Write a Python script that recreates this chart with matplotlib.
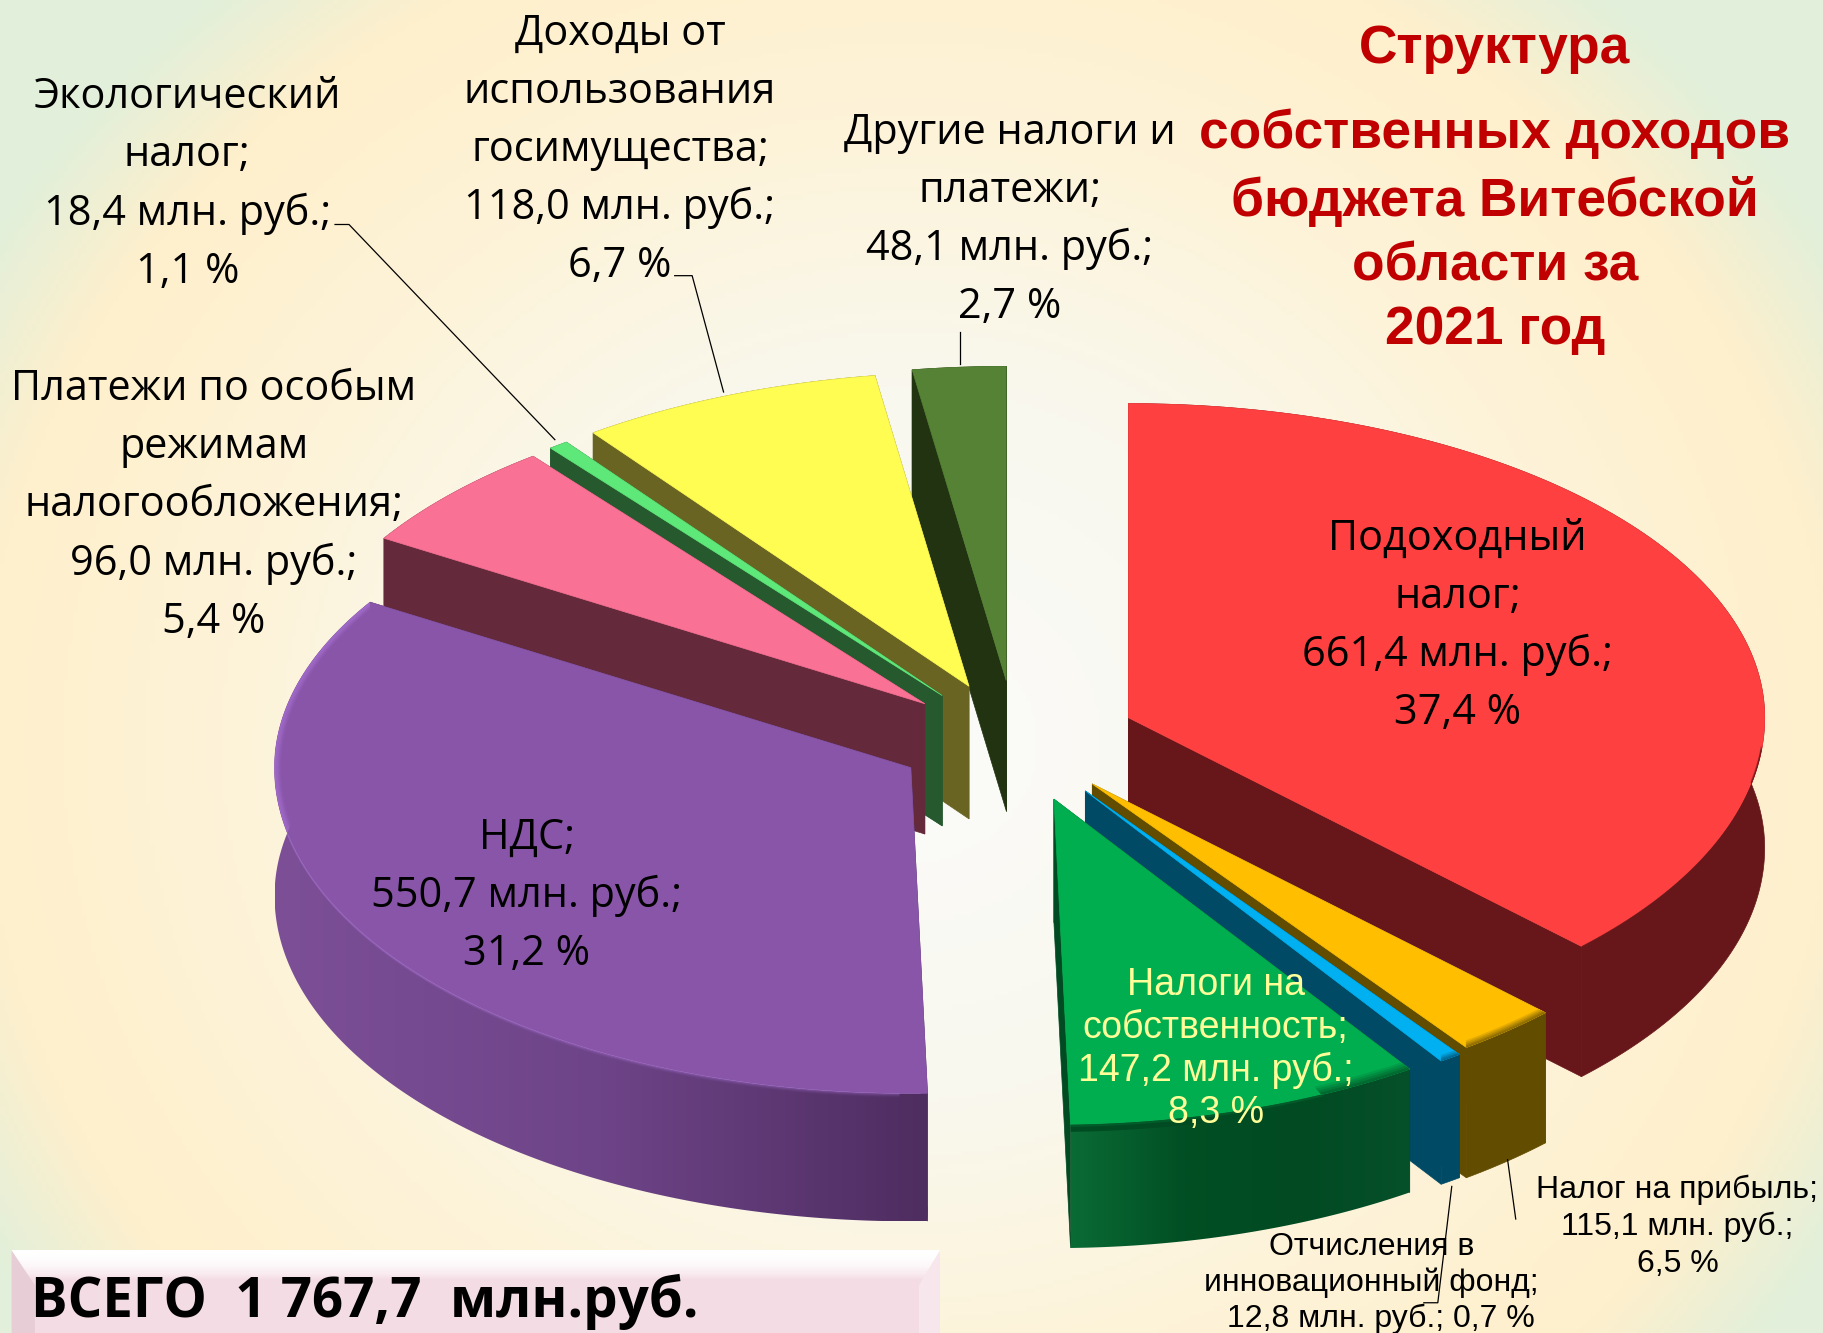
import numpy as np
import matplotlib
matplotlib.use('Agg')
import matplotlib.pyplot as plt
from matplotlib.colors import to_rgb, LinearSegmentedColormap

# data, clockwise from 12 o'clock
names = ['Подоходный\nналог', 'Налог на прибыль', 'Отчисления в\nинновационный фонд',
         'Налоги на\nсобственность', 'НДС', 'Платежи по особым\nрежимам\nналогообложения',
         'Экологический\nналог', 'Доходы от\nиспользования\nгосимущества', 'Другие налоги и\nплатежи']
values = [661.4, 115.1, 12.8, 147.2, 550.7, 96.0, 18.4, 118.0, 48.1]
percents = [37.4, 6.5, 0.7, 8.3, 31.2, 5.4, 1.1, 6.7, 2.7]
total_label = 'ВСЕГО  1 767,7  млн.руб.'
title_lines = ['Структура', 'собственных доходов', 'бюджета Витебской', 'области за', '2021 год']

# colors per slice
top_col = ['#FF4040', '#FFBE00', '#00B0F0', '#00AE50', '#8955A8', '#F97194', '#5FE87A', '#FFFC52', '#558234']
side_col = ['#67161A', '#614C00', '#004A66', '#014B22', '#4B2E60', '#642A3C', '#265A2E', '#696421', '#223312']
# apex of every exploded slice and wall height, in the 1568x1146 layout
apex_x = [970, 939, 933, 906, 783, 795, 810, 833, 865]
apex_y = [617, 674, 680, 687, 660, 605, 598, 590, 585]
depths = [112, 112, 106, 106, 110, 112, 112, 114, 112]
# walls that shade from left to right
wall_maps = {4: ['#7C4F97', '#6E4488', '#4E2D60'], 3: ['#0A6B35', '#014F24', '#014A22', '#06502A']}
# half width of the soft edge between top and wall
bevel_px = {0: 3, 1: 6, 2: 5, 3: 8}

# perspective squeezes the front of the pie, share -> angle on screen
pct_knots = [0, 37.4, 43.9, 44.6, 52.9, 84.1, 89.5, 90.6, 97.3, 100]
deg_knots = [0, 134.6, 144, 146, 178.5, 301.8, 322, 323.8, 351.5, 360]

A = 547      # half width of ellipse
B_BACK = 270
B_FRONT = 280


def rim(t, cx, cy):
    # t in degrees clockwise from top
    r = np.radians(t)
    b = np.where(np.cos(r) > 0, B_BACK, B_FRONT)
    return cx + A * np.sin(r), cy - b * np.cos(r)


def lerp(c1, c2, f):
    c1, c2 = np.array(to_rgb(c1)), np.array(to_rgb(c2))
    return tuple(c1 + (c2 - c1) * f)


def fmt(v):
    return f'{v:.1f}'.replace('.', ',')


fig = plt.figure(figsize=(18.24, 13.33), dpi=100)
ax = fig.add_axes([0, 0, 1, 1])
ax.axis('off')

# background
gx, gy = np.meshgrid(np.linspace(0, 1568, 400), np.linspace(0, 1146, 300))
d = np.sqrt(((gx - 780) / 760) ** 2 + ((gy - 640) / 700) ** 2)
cmap = LinearSegmentedColormap.from_list('bg', [(0, '#FBFBFA'), (0.35, '#F9F8EE'), (0.62, '#FDF3D8'),
                                                (0.84, '#FFF0CC'), (0.97, '#E2EFDA'), (1, '#E2EFDA')])
ax.imshow(np.clip(d / 1.25, 0, 1), cmap=cmap, vmin=0, vmax=1, extent=(0, 1568, 1146, 0), aspect='auto', zorder=0)

# slices back to front
edges = np.interp(np.cumsum([0] + percents), pct_knots, deg_knots)
order = [8, 7, 6, 5, 4, 0, 1, 2, 3]
z = 2
for i in order:
    t = np.linspace(edges[i], edges[i + 1], max(int((edges[i + 1] - edges[i]) * 2), 3))
    x, y = rim(t, apex_x[i], apex_y[i])
    h = depths[i]
    # radial faces
    for k in (-1, 0):
        quad = [(apex_x[i], apex_y[i]), (apex_x[i], apex_y[i] + h), (x[k], y[k] + h), (x[k], y[k])]
        ax.add_patch(plt.Polygon(quad, fc=side_col[i], ec=side_col[i], lw=0.5, zorder=z))
    # outer wall
    wall = np.column_stack([np.r_[x, x[::-1]], np.r_[y, y[::-1] + h]])
    if i in wall_maps:
        wmap = LinearSegmentedColormap.from_list(f'w{i}', wall_maps[i])
        im = ax.imshow(np.linspace(0, 1, 256)[None, :], cmap=wmap, aspect='auto', zorder=z,
                       extent=(x.min(), x.max(), y.max() + h, y.min()))
        im.set_clip_path(plt.Polygon(wall, transform=ax.transData))
    else:
        ax.add_patch(plt.Polygon(wall, fc=side_col[i], ec=side_col[i], lw=0.5, zorder=z))
    # top
    top = np.column_stack([np.r_[apex_x[i], x], np.r_[apex_y[i], y]])
    ax.add_patch(plt.Polygon(top, fc=top_col[i], ec=top_col[i], lw=0.5, zorder=z + 0.5))
    # outline of the whole slice, keeps the bevel lines inside it
    shape = np.column_stack([np.r_[apex_x[i], x, x[::-1]], np.r_[apex_y[i], y, y[::-1] + h]])
    # soft bevel where top turns into wall
    if i == 4:
        m = t > 181
        for off in np.arange(-6, 3.1, 0.75):
            al = 0.22 * np.exp(-((off + 1) / 2.6) ** 2)
            if off < 0:
                s = -off / B_FRONT
                px = x[m] + s * (apex_x[i] - x[m]) * 0.6
                py = y[m] + s * (apex_y[i] - y[m])
            else:
                px = x[m]
                py = y[m] + off * np.clip(-np.cos(np.radians(t[m])), 0, 1)
            ln, = ax.plot(px, py, color='#B880EA', lw=1.6, alpha=al, zorder=z + 0.6, solid_capstyle='butt')
            ln.set_clip_path(plt.Polygon(shape, transform=ax.transData))
    if i in bevel_px:
        w = bevel_px[i]
        m = t >= 95
        for off in np.linspace(-w, w * 0.5, 7):
            f = (off + w) / (1.5 * w)
            ln, = ax.plot(x[m], y[m] + off, color=lerp(top_col[i], side_col[i], f), lw=w * 0.45, zorder=z + 0.6,
                          solid_capstyle='butt')
            ln.set_clip_path(plt.Polygon(shape, transform=ax.transData))
    z += 1

# leader lines
leaders = [([288, 300, 477], [193, 193, 378]), ([580, 595, 622], [237, 237, 337]),
           ([825, 825], [285, 313]), ([1296, 1303], [997, 1048]), ([1248, 1236, 1224], [1020, 1120, 1120])]
for lx, ly in leaders:
    ax.plot(lx, ly, color='black', lw=0.9, zorder=30)

BIG = dict(family=['Open Sans', 'Noto Sans'], fontsize=29.9, color='black')
SMALL = dict(family=['Liberation Sans'], fontsize=23, color='black')
GREEN = dict(family=['Liberation Sans'], fontsize=27, color='#FFFF99')


def put_label(i, cx, y0, step, style, tail_dx=None):
    rows = names[i].split('\n')
    rows[-1] += ';'
    if tail_dx is not None:
        rows.append(f'{fmt(values[i])} млн. руб.; {fmt(percents[i])} %')
    else:
        rows += [f'{fmt(values[i])} млн. руб.;', f'{fmt(percents[i])} %']
    for n, row in enumerate(rows):
        dx = tail_dx if tail_dx is not None and n == len(rows) - 1 else 0
        ax.text(cx + dx, y0 + n * step, row, ha='center', va='center', zorder=31, **style)


put_label(0, 1253, 463, 50, BIG)
put_label(1, 1442, 1023, 32, SMALL)
put_label(2, 1179, 1072, 31, SMALL, tail_dx=8)
put_label(3, 1045, 847, 36.7, GREEN)
put_label(4, 453, 720, 50, BIG)
put_label(5, 184, 334, 50.2, BIG)
put_label(6, 161, 83, 50.3, BIG)
put_label(7, 533, 29, 50, BIG)
put_label(8, 868, 114, 50, BIG)

# title
for row, yy in zip(title_lines, [42, 115, 173, 229, 284]):
    ax.text(1285, yy, row, ha='center', va='center', family='Liberation Sans', weight='bold',
            fontsize=38.3, color='#C00000', zorder=31)

# total box with bevel
ax.add_patch(plt.Rectangle((10, 1075), 798, 80, fc='#F4DCE4', ec='none', zorder=20))
for k in np.arange(0, 26):
    f = k / 25
    ax.add_patch(plt.Rectangle((10, 1075 + k), 798, 1.2, fc=lerp('#FFFFFF', '#F4DCE4', f ** 2), ec='none', zorder=21))
ax.add_patch(plt.Polygon([(10, 1075), (30, 1105), (30, 1146), (10, 1146)], fc='#E6CDD6', ec='none', zorder=22))
ax.add_patch(plt.Polygon([(808, 1075), (790, 1105), (790, 1146), (808, 1146)], fc='#F7E6EC', ec='none', zorder=22))
ax.text(27, 1119, total_label, ha='left', va='center', family='Open Sans', weight='bold', fontsize=39.3,
        color='black', zorder=31)

ax.set_xlim(0, 1568)
ax.set_ylim(1146, 0)
fig.savefig('out.png', dpi=100)
